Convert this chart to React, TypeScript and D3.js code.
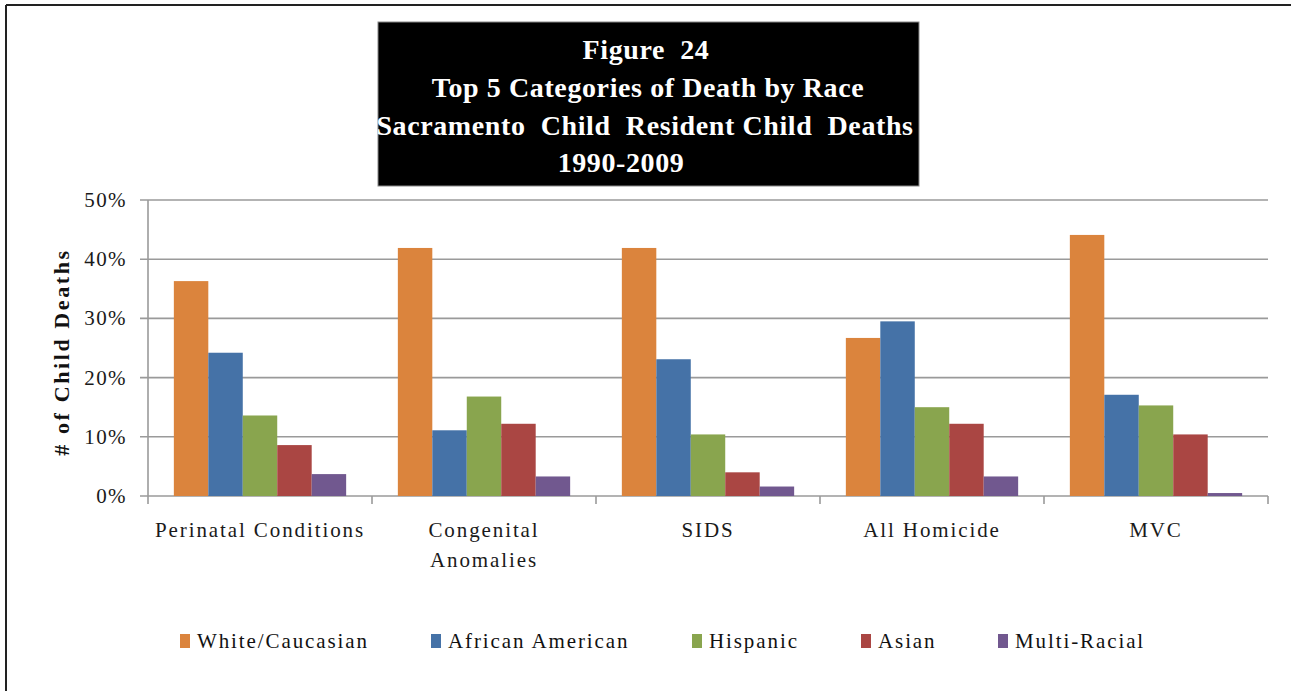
import React from "react";
import * as d3 from "d3";

const categories = ["Perinatal Conditions", "Congenital\nAnomalies", "SIDS", "All Homicide", "MVC"];
const seriesNames = ["White/Caucasian", "African American", "Hispanic", "Asian", "Multi-Racial"];
const white = [36.3, 41.9, 41.9, 26.7, 44.1];
const african = [24.2, 11.1, 23.1, 29.5, 17.1];
const hispanic = [13.6, 16.8, 10.4, 15.0, 15.3];
const asian = [8.6, 12.2, 4.0, 12.2, 10.4];
const multi = [3.7, 3.3, 1.6, 3.3, 0.5];
const yTicks = [0, 10, 20, 30, 40, 50];
const titleLines = ["Figure  24", "Top 5 Categories of Death by Race", "Sacramento  Child  Resident Child  Deaths", "1990-2009"];
const colors = ["#DB843D", "#4572A7", "#89A54E", "#AA4643", "#71588F"];

const seriesValues = [white, african, hispanic, asian, multi];

const W = 1291;
const H = 691;
const plot = { left: 148, right: 1268, top: 200, bottom: 496 };
const legendX = [180, 431, 692, 861, 998];
const titleCenters = [646, 648, 645, 621];
const titleBaselines = [59, 97, 135, 172];
const serif = "'Liberation Serif', 'Times New Roman', serif";

export default function App() {
  const x = d3.scaleBand<string>().domain(categories).range([plot.left, plot.right]).paddingInner(0).paddingOuter(0);
  const xi = d3.scaleBand<string>().domain(seriesNames).range([0, x.bandwidth()]).paddingInner(0).paddingOuter(0.75);
  const y = d3.scaleLinear().domain([0, 50]).range([plot.bottom, plot.top]);
  const boundaries = categories.map((c) => x(c) as number).concat([plot.right]);

  return (
    <svg width={W} height={H} style={{ position: "absolute", left: 0, top: 0, background: "#fff" }}>
      {/* frame */}
      <line x1={6} y1={5} x2={W} y2={5} stroke="#222" strokeWidth={2} />
      <line x1={6} y1={5} x2={6} y2={H} stroke="#222" strokeWidth={2} />

      {/* title box */}
      <rect x={378} y={22} width={541} height={164} fill="#000" stroke="#888" strokeWidth={1} />
      {titleLines.map((t, i) => (
        <text key={i} x={titleCenters[i]} y={titleBaselines[i]} textAnchor="middle" fill="#fff"
          fontFamily={serif} fontWeight="bold" fontSize={28} letterSpacing={0.6} style={{ whiteSpace: "pre" }} xmlSpace="preserve">
          {t}
        </text>
      ))}

      {/* gridlines */}
      {yTicks.map((t) => (
        <g key={t}>
          <line x1={plot.left - 8} x2={plot.right} y1={y(t)} y2={y(t)} stroke="#9a9a9a" strokeWidth={1.6} />
          <text x={127} y={y(t) + 7} textAnchor="end" fontFamily={serif} fontSize={21} fill="#1a1a1a" letterSpacing={1.4}>
            {t + "%"}
          </text>
        </g>
      ))}
      <line x1={plot.left} x2={plot.left} y1={plot.top} y2={plot.bottom} stroke="#9a9a9a" strokeWidth={1.6} />
      {boundaries.map((bx, i) => (
        <line key={i} x1={bx} x2={bx} y1={plot.bottom} y2={plot.bottom + 8} stroke="#9a9a9a" strokeWidth={1.6} />
      ))}

      {/* bars */}
      {categories.map((c, ci) => (
        <g key={c} transform={`translate(${x(c)},0)`}>
          {seriesNames.map((s, si) => {
            const v = seriesValues[si][ci];
            return (
              <rect key={s} x={xi(s)} y={y(v)} width={xi.bandwidth()} height={y(0) - y(v)} fill={colors[si]} />
            );
          })}
        </g>
      ))}

      {/* category labels */}
      {categories.map((c) => {
        const lines = c.split("\n");
        const cx = (x(c) as number) + x.bandwidth() / 2;
        return (
          <text key={c} x={cx} y={537} textAnchor="middle" fontFamily={serif} fontSize={21} fill="#1a1a1a" letterSpacing={1.9}>
            {lines.map((l, i) => (
              <tspan key={i} x={cx} dy={i === 0 ? 0 : 30}>{l}</tspan>
            ))}
          </text>
        );
      })}

      {/* y axis title */}
      <text transform={`translate(69,352) rotate(-90)`} textAnchor="middle" fontFamily={serif} fontWeight="bold"
        fontSize={22} fill="#111" letterSpacing={2.6}>
        # of Child Deaths
      </text>

      {/* legend */}
      {seriesNames.map((s, i) => (
        <g key={s}>
          <rect x={legendX[i]} y={634} width={10} height={14} fill={colors[i]} />
          <text x={legendX[i] + 17} y={648} fontFamily={serif} fontSize={21} fill="#111" letterSpacing={1.9}>
            {s}
          </text>
        </g>
      ))}
    </svg>
  );
}
